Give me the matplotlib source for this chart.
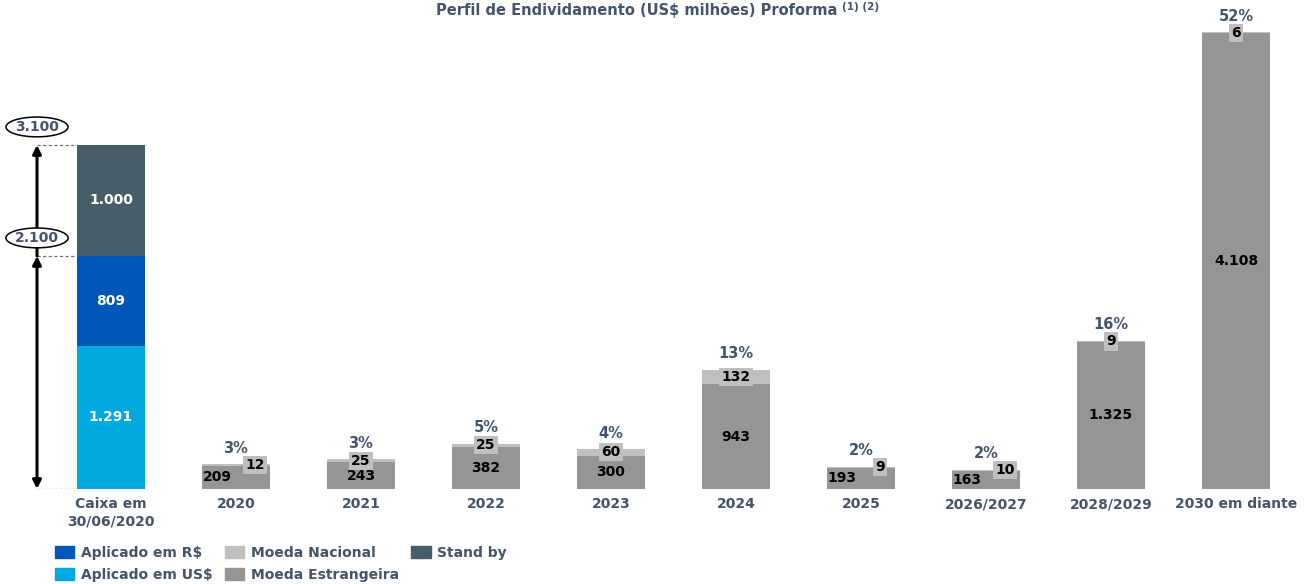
import matplotlib.pyplot as plt
from matplotlib.patches import Patch

# Data
categories = ["Caixa em\n30/06/2020", "2020", "2021", "2022", "2023", "2024",
              "2025", "2026/2027", "2028/2029", "2030 em diante"]
caixa_usd = 1291
caixa_brl = 809
stand_by = 1000
moeda_estrangeira = [209, 243, 382, 300, 943, 193, 163, 1325, 4108]
moeda_nacional = [12, 25, 25, 60, 132, 9, 10, 9, 6]
percentuais = ["3%", "3%", "5%", "4%", "13%", "2%", "2%", "16%", "52%"]
marcos = [2100, 3100]

# Colours
c_usd = "#00A9E0"
c_brl = "#0057B8"
c_standby = "#475E6A"
c_nac = "#BFBFBF"
c_estr = "#959595"
c_txt = "#44546A"

plt.rcParams['font.family'] = ['DejaVu Sans']

W, H = 1306, 584
fig = plt.figure(figsize=(W / 100, H / 100), dpi=100)

# axes mapped so that 125 px = one category, baseline at y=489 px
px_per_unit = 344 / 3100
ax = fig.add_axes([0, (H - 489) / H, 1, 489 / H])
ax.set_xlim(-111 / 125, (W - 111) / 125)
ax.set_ylim(0, 489 / px_per_unit)
for s in ax.spines.values():
    s.set_visible(False)
ax.set_yticks([])

bw = 68 / 125

# Caixa bar
ax.bar(0, caixa_usd, bw, color=c_usd)
ax.bar(0, caixa_brl, bw, bottom=caixa_usd, color=c_brl)
ax.bar(0, stand_by, bw, bottom=caixa_usd + caixa_brl, color=c_standby)
fmt = lambda v: f"{v:,}".replace(",", ".")
for val, base in [(caixa_usd, 0), (caixa_brl, caixa_usd), (stand_by, caixa_usd + caixa_brl)]:
    ax.text(0, base + val / 2, fmt(val), ha="center", va="center",
            color="white", fontsize=10, fontweight="bold")

# Debt bars
xs = list(range(1, len(categories)))
ax.bar(xs, moeda_estrangeira, bw, color=c_estr)
ax.bar(xs, moeda_nacional, bw, bottom=moeda_estrangeira, color=c_nac)

small = {1, 6, 7}  # bars where labels sit side by side
for i, x in enumerate(xs):
    e, n = moeda_estrangeira[i], moeda_nacional[i]
    dx_e = -0.15 if x in small else 0
    dx_n = 0.15 if x in small else 0
    ax.text(x + dx_e, e / 2, fmt(e), ha="center", va="center",
            color="black", fontsize=10, fontweight="bold")
    ax.text(x + dx_n, e + n / 2, fmt(n), ha="center", va="center",
            color="black", fontsize=10, fontweight="bold", zorder=4,
            bbox=dict(boxstyle="square,pad=0.15", fc=c_nac, ec="none"))
    ax.annotate(percentuais[i], (x, e + n), xytext=(0, 11.5), textcoords="offset points",
                ha="center", va="center", color=c_txt, fontsize=10.5, fontweight="bold")

# Left-hand markers
xa = (37 - 111) / 125
ax.annotate("", xy=(xa, 0), xytext=(xa, marcos[0]),
            arrowprops=dict(arrowstyle="<|-|>,head_length=0.5,head_width=0.25",
                            color="black", lw=2.2, shrinkA=0, shrinkB=0))
ax.annotate("", xy=(xa, marcos[1]), xytext=(xa, marcos[0]),
            arrowprops=dict(arrowstyle="-|>,head_length=0.5,head_width=0.25",
                            color="black", lw=2.2, shrinkA=0, shrinkB=0))
for yv in [0] + marcos:
    ax.plot([xa, -bw / 2], [yv, yv], ls=(0, (2.5, 2)), color="#6F6F6F", lw=0.9)
for yv in marcos:
    ax.annotate(fmt(yv), (xa, yv), xytext=(0, 13), textcoords="offset points",
                ha="center", va="center", color=c_txt, fontsize=10, fontweight="bold",
                zorder=5,
                bbox=dict(boxstyle="ellipse,pad=0.0", fc="white", ec="black", lw=1.1))

ax.set_xticks(range(len(categories)))
ax.set_xticklabels(categories, color=c_txt, fontsize=10, fontweight="bold",
                   linespacing=1.25)
ax.tick_params(axis="x", length=0, pad=6)

# Title
t = fig.text(637 / W, 1 - 10 / H, "Perfil de Endividamento (US$ milhões) Proforma",
             ha="center", va="center", color=c_txt, fontsize=10.5, fontweight="bold")
ax.annotate("(1) (2)", xy=(1, 0.4), xycoords=t, xytext=(3, 0), textcoords="offset points",
            ha="left", va="bottom", color=c_txt, fontsize=7.5, fontweight="bold",
            annotation_clip=False)

# Legend
handles = [Patch(color=c_brl, label="Aplicado em R$"),
           Patch(color=c_usd, label="Aplicado em US$"),
           Patch(color=c_nac, label="Moeda Nacional"),
           Patch(color=c_estr, label="Moeda Estrangeira"),
           Patch(color=c_standby, label="Stand by")]
fig.legend(handles=handles, ncol=3, loc="upper left",
           bbox_to_anchor=(55 / W, 1 - 546 / H), frameon=False,
           prop={"weight": "bold", "size": 10}, labelcolor=c_txt,
           borderpad=0, borderaxespad=0, handlelength=1.4, handleheight=1.0,
           handletextpad=0.45, columnspacing=0.9, labelspacing=0.55)

fig.savefig("out.png", dpi=100)
